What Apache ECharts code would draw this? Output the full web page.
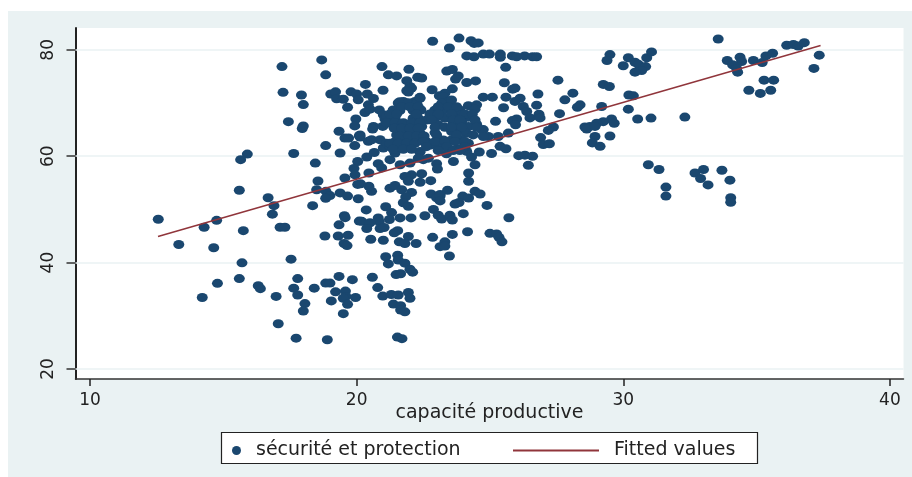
<!DOCTYPE html>
<html lang="fr">
<head>
    <meta charset="UTF-8">
    <title>capacité productive</title>
    <script src="https://cdn.jsdelivr.net/npm/echarts@6/dist/echarts.min.js"></script>
    <style>
        html, body { margin: 0; padding: 0; background: #fff; }
        #frame { position: absolute; left: 8px; top: 11px; width: 904px; height: 466px; background: #eaf2f3; }
        #chart { position: absolute; left: 0; top: 0; width: 912px; height: 477px; }
    </style>
</head>
<body>
    <div id="frame"></div>
    <div id="chart"></div>
    <script>
        const xTicks = [10, 20, 30, 40];
        const yTicks = [20, 40, 60, 80];
        const fittedLine = [[12.55, 44.9], [37.4, 80.8]];

        // zone par zone
        const leftPoints = [
            [12.56,48.15],[13.33,43.4],[14.28,46.65],[14.75,47.95],[14.64,42.8],[15.75,46],[16.84,49.1],[16.9,50.7],
            [17.13,46.65],[17.31,46.65],[15.7,39.95],[17.54,40.65],[14.78,36.1],[15.6,37],[16.31,35.65],[16.39,35.1],
            [14.21,33.45],[16.98,33.65],[17.79,37],[17.64,35.2],[17.79,33.9],[18.41,35.2],[18.84,36.15],[19,36.15],
            [19.34,37.4],[19.84,36.8],[19.21,34.5],[19.58,34.65],[19.6,33.65],[19.5,33.3],[19.96,33.45],[19.05,32.8],
            [19.66,32.15],[18.06,32.3],[18,30.9],[19.5,30.4],[17.06,28.5],[17.73,25.8],[18.9,25.5],
            [17.2,76.85],[18.69,78.1],[18.84,75.3],[17.24,72],[17.93,71.5],[18,69.7],[19.03,71.7],[19.21,72.1],
            [19.25,70.8],[19.5,70.7],[19.66,69.2],[19.79,72.1],[20,71.7],[20.06,70.6],[19.97,67],[19.93,65.7],
            [17.44,66.5],[18,65.7],[17.96,65.2],[19.34,64.7],[19.56,63.4],[19.7,63.4],[20.1,63.85],[18.84,62],
            [19.93,62],[19.38,60.6],[15.9,60.4],[15.65,59.35],[17.64,60.5],[18.45,58.7],[20.04,59],[19.9,57.7],
            [19.94,56.5],[19.56,55.9],[18.55,55.35],[20.04,54.7],[15.6,53.6],[18.5,53.7],[18.85,53.4],[19,52.6],
            [18.84,52.1],[19.38,53.1],[19.66,52.5],[20.06,52],[16.68,52.2],[18.35,50.7],[19.54,48.8],[19.57,48.45],
            [19.34,47.1],[20.1,47.8],[18.81,45],[19.31,45],[19.68,45.15],[19.53,43.6],[19.64,43.2]
        ];
        const upperPoints = [
            [22.85,81.6],[23.84,82.2],[23.48,80.35],[24.29,81.7],[24.41,81.2],[24.56,81.3],[24.13,78.85],[24.4,78.7],
            [24.75,79.2],[24.98,79.2],[25.39,79.2],[25.39,78.6],[25.84,78.85],[26,78.7],[26.3,78.85],[26.6,78.7],
            [26.75,78.7],[25.59,76.7],[20.95,76.85],[21.96,76.35],[21.19,75.3],[21.5,75.1],[23.38,76],[23.59,76.3],
            [23.81,75.1],[23.71,74.5],[24.13,73.85],[24.46,74.15],[22.29,74.85],[22.44,74.7],[21.88,74.2],[22,73.1],
            [22.06,72.8],[21.88,72.3],[20.33,73.5],[20.99,72.4],[20.4,71.7],[20.63,70.85],[20.44,69.65],[20.31,68.2],
            [20.5,68.85],[20.85,68.7],[21,67.8],[21.06,67],[20.63,65.6],[20.98,65.6],[20.6,65.1],[20.13,64],
            [20.13,63.6],[22.83,72.5],[23.59,72.66],[23.1,71.35],[23.31,71.85],[22.38,70.9],[22.19,70.3],[21.75,70.3],
            [21.56,70],[22.4,68.7],[22.93,68.65],[23.25,70.6],[23.44,69.65],[23.63,69],[23.81,68.1],[24.19,69.5],
            [24.5,69.65],[24.44,68.85],[24.75,71.1],[25.09,71.1],[25.6,71.1],[25.94,72.8],[25.85,72.6],[25.54,73.8],
            [25.51,69.1],[26.8,71.7],[27.55,74.3],[28.11,71.85],[27.81,70.6],[28.38,69.65],[28.28,69.2],[27.61,68],
            [26.13,70.9],[25.94,70.3],[26.25,69.35],[26.75,69.6],[26.38,68.4],[26.5,67.2],[26.84,67.9],[26.88,67.2],
            [26,67],[25.84,66.7],[25.96,65.9],[25.21,66.55],[27.38,65.5],[27.19,64.85],[26.9,63.5],[27,62.2],
            [27.23,62.35],[25.69,64.35],[25.31,63.7],[24.94,63.7],[24.75,65],[24.44,65.9],[24.19,67.5],[25.38,61.85],
            [25.6,61.4],[26.08,60.1],[26.31,60.2],[26.6,60],[26.44,58.3],[25.06,60.5],[24.6,60.8],[24.13,60.9],
            [24.31,59.85],[24.44,58.4],[23.63,59],[23,58.6],[23.03,57.6],[24.2,56.85],[24.2,55.3],[22.78,55.4],
            [22.44,56.7],[22.38,55.1],[22.06,56.5],[21.81,56.2],[21.94,55.3],[21.25,54],[21.44,54.5],[21.69,53.7],
            [22.06,53.2],[21.84,52.35],[20.56,53.4],[20.46,54.35],[20.15,54.8],[20.46,56.85],[20.38,59.85],[20.66,60.7],
            [20.81,58.6],[20.94,57.8],[21.25,59.35],[21.63,58.4],[22,58.7],[22.38,60.9],[22.5,59.35],[21.44,60.6],
            [22.79,52.9],[23.41,53.6],[23.13,52.8],[23,52.2],[24.44,53.4],[24.63,52.9],[23.98,52.5],[24.2,52.15],
            [20.44,62.8],[20.88,63.1],[20.56,63.1],[21,61.55],[21.25,62.15]
        ];
        const centerPoints = [
            [21.62,70.25],[21.94,70.07],[22.25,69.94],[22.37,71.06],[21.94,72.06],[22.41,68.69],[21.37,68.69],[21.62,68.56],
            [22.12,68.56],[21.12,67.56],[21.44,67.13],[22.12,67.13],[22.31,67.13],[21.25,66.19],[21.56,65.88],[21.87,65.88],
            [22.19,65.69],[22.44,65.57],[21.75,64.63],[22.06,64.63],[22.37,64.44],[21.5,64],[21.12,62.44],[21.44,62.75],
            [21.75,63.06],[22.06,63.19],[21.25,61.8],[21.62,61.7],[21.94,61.8],[22.31,63.4],[22.37,60.75],[22.69,59.63],
            [22.31,59.63],[22.94,68.56],[22.62,66.8],[22.94,67.13],[23.25,68.69],[23.25,71.19],[23.44,70.25],[23.19,69.94],
            [23.62,69.3],[23.87,68.69],[24.19,67.3],[23.31,67.13],[23.62,66.19],[23.94,66.5],[23.06,65.88],[24.5,66],
            [24.19,65.57],[23.87,64.94],[22.94,64.44],[23.56,64.63],[24.12,64.3],[24.69,64.94],[24.75,63.7],[22.62,62.75],
            [23.25,63.06],[23.56,63.06],[23.94,63.06],[24.19,62.44],[22.81,62.13],[23.12,61.8],[23.44,61.5],[24,61.7],
            [23.75,61.3],[23.37,60.44],
            [21.69,69.3],[22,69.3],[22.31,69.3],[21.25,67.94],[21.5,67.94],[22.25,67.94],[21.12,66.3],[21.44,66.3],
            [21.75,66.3],[22.06,66.3],[22.37,66.3],[21.41,65.25],[21.69,65.25],[22,65.25],[22.31,65.25],[21.62,63.8],
            [21.94,63.8],[22.25,63.8],[22.53,63.8],[21.25,62.44],[21.56,62.44],[21.87,62.44],[22.19,62.44],[21.37,61.3],
            [21.75,61.3],[22.06,61.3],[23.56,70.56],[23.06,69.3],[23.44,69.3],[23.75,69.3],[22.75,67.94],[23.06,67.94],
            [23.56,67.94],[24.06,67.94],[24.34,67.94],[22.81,66.8],[23.62,66.8],[23.87,66.8],[24.44,66.8],[22.94,65.44],
            [23.31,65.44],[23.56,65.44],[23.94,65.44],[24.5,65.44],[23,64],[23.75,64],[24.37,64],[22.5,62.75],
            [22.94,62.75],[23.31,62.75],[23.69,62.75],[24.06,62.75],[22.62,61.8],[23.37,61.8],[24.06,61.8],[23.06,61.06],
            [23.62,61.06],[23.87,61.06]
        ];
        const lowerPoints = [
            [21.75,51.25],[21.94,50.6],[23.13,52.5],[23.13,51.6],[23.69,51],[23.84,51.3],[24.89,50.75],[25.71,48.44],
            [22.88,50],[24,49.2],[22.56,48.8],[23.06,48.9],[23.19,48.2],[23.5,48.9],[23.59,48],[22.04,48.4],
            [21.63,48.4],[21.31,49.4],[21.23,48.1],[20.81,48.4],[20.85,47.7],[21.09,50.5],[20.36,49.9],[20.19,47.75],
            [20.5,47.5],[20.38,46.4],[20.88,46.4],[21.03,46.6],[21.54,46],[21.41,45.6],[21.94,44.9],[21.6,43.9],
            [21.81,43.6],[22.23,43.6],[20.53,44.4],[21,44.2],[22.85,44.75],[23.59,45.3],[24.16,45.8],[25,45.5],
            [25.25,45.4],[25.34,44.75],[25.45,43.9],[23.31,43.9],[23.13,43],[23.31,43.1],[23.48,41.25],[21.09,41.1],
            [21.54,41.4],[21.56,40.5],[21.19,39.75],[21.81,39.9],[22,38.75],[22.1,38.2],[21.48,37.75],[21.65,37.9],
            [20.59,37.25],[20.79,35.3],[20.98,33.7],[21.3,34],[21.56,33.9],[21.94,34.4],[22,33.3],[21.38,32.2],
            [21.65,31.9],[21.65,31.1],[21.81,30.75],[21.53,26],[21.7,25.7]
        ];
        const rightPoints = [
            [33.56,82.04],[29.5,79.1],[29.39,78],[30.19,78.5],[30,77],[30.44,77.66],[30.56,77.3],[30.88,78.5],
            [31.06,79.6],[30.84,76.85],[30.69,76.1],[30.44,75.8],[29.25,73.5],[29.48,73.1],[30.21,71.5],[30.38,71.35],
            [29.19,69.35],[30.19,68.85],[30.54,67],[31.04,67.16],[32.31,67.35],[29.56,67],[29.66,66.2],[29.25,66.5],
            [29,66.2],[28.75,65.6],[28.56,65.5],[28.63,65.1],[28.94,65.6],[28.94,63.7],[29.5,63.8],[28.84,62.5],
            [29.13,61.85],[30.94,58.4],[31.34,57.5],[31.6,54.2],[31.6,52.5],[32.69,56.85],[33.01,57.5],[32.9,55.8],
            [33.18,54.6],[33.7,57.35],[34,55.5],[34.03,52.2],[34.03,51.35],[33.9,78],[34.38,78.6],[34.44,77.8],
            [34.1,77.2],[34.29,75.8],[34.25,76.5],[34.88,78],[35.21,77.6],[35.35,78.85],[35.6,79.35],[36.13,80.85],
            [36.38,81],[36.56,80.7],[36.79,81.35],[37.35,79],[37.15,76.5],[35.28,74.3],[35.64,74.3],[34.71,72.4],
            [35.14,71.8],[35.53,72.4]
        ];
        const securityPoints = [...leftPoints, ...upperPoints, ...centerPoints, ...lowerPoints, ...rightPoints];

        const chart = echarts.init(document.getElementById('chart'), null, { renderer: 'canvas' });
        const font = 'DejaVu Sans';

        chart.setOption({
            animation: false,
            backgroundColor: 'transparent',
            grid: { left: 75.5, right: 8.5, top: 28, bottom: 98, backgroundColor: '#fff', show: true, borderWidth: 0 },
            xAxis: {
                type: 'value', min: 9.456, max: 40.51,
                name: 'capacité productive', nameLocation: 'middle', nameGap: 25, nameMoveOverlap: false,
                nameTextStyle: { fontFamily: font, fontSize: 19, color: '#222' },
                axisLine: { onZero: false, lineStyle: { color: '#333', width: 1.5 } },
                axisTick: { customValues: xTicks, length: 7, lineStyle: { color: '#222', width: 1.5 } },
                axisLabel: { customValues: xTicks, formatter: '{value}', margin: 13, fontFamily: font, fontSize: 17, color: '#222' },
                splitLine: { show: false }
            },
            yAxis: {
                type: 'value', min: 18.12, max: 84.1,
                axisLine: { onZero: false, lineStyle: { color: '#222', width: 2 } },
                axisTick: { customValues: yTicks, length: 9, lineStyle: { color: '#333', width: 1.5 } },
                axisLabel: { customValues: yTicks, formatter: '{value}', rotate: 90, margin: 18, fontFamily: font, fontSize: 17, color: '#222' },
                splitLine: { show: false }
            },
            legend: [
                {
                    data: ['sécurité et protection'], left: 232, top: 441, itemWidth: 11, itemHeight: 9, itemGap: 0, padding: 0,
                    textStyle: { fontFamily: font, fontSize: 19, color: '#222', padding: [0, 0, 0, 9] }
                },
                {
                    data: ['Fitted values'], left: 512, top: 441, itemWidth: 86, itemHeight: 14, padding: 0,
                    itemStyle: { opacity: 0 },
                    textStyle: { fontFamily: font, fontSize: 19, color: '#222', padding: [0, 0, 0, 10] }
                }
            ],
            graphic: [{
                type: 'rect', z: 0, silent: true,
                shape: { x: 221.5, y: 432.5, width: 536, height: 31 },
                style: { fill: '#fff', stroke: '#222', lineWidth: 1.2 }
            }],
            series: [
                {
                    name: 'sécurité et protection', type: 'scatter', data: securityPoints,
                    symbol: 'circle', symbolSize: [11, 9], itemStyle: { color: '#1a476f', opacity: 1 },
                    markLine: {
                        silent: true, symbol: 'none', z: 1, label: { show: false },
                        lineStyle: { color: '#eaf2f3', width: 1.5, type: 'solid' },
                        data: yTicks.map(v => ({ yAxis: v }))
                    }
                },
                {
                    name: 'Fitted values', type: 'line', data: fittedLine, showSymbol: false, symbol: 'none',
                    lineStyle: { color: '#90353b', width: 1.5 }, itemStyle: { color: '#90353b' }, z: 5
                }
            ]
        });
    </script>
</body>
</html>
